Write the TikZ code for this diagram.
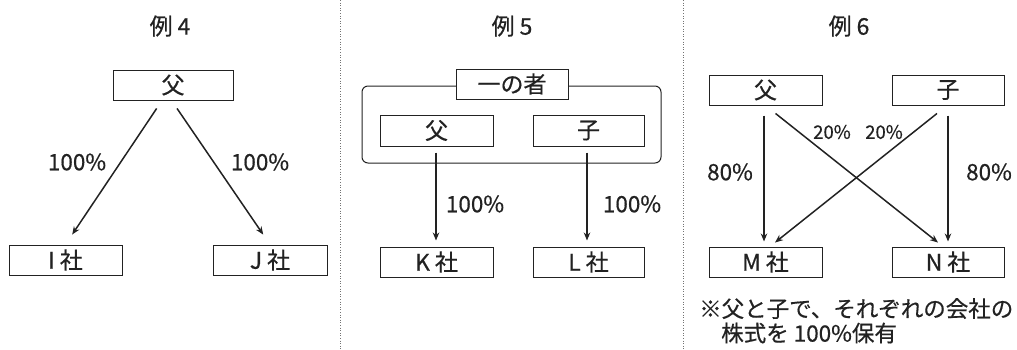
\documentclass[tikz,border=0pt]{standalone}
\usepackage{fontspec}
\setmainfont{Noto Sans CJK JP}[FakeBold=0.5]
\usetikzlibrary{arrows.meta}
\definecolor{ink}{HTML}{222222}
\newcommand{\gp}{\hspace{5pt}}
\tikzset{
  box/.style={draw=ink, line width=1pt, rectangle, inner sep=0pt, minimum height=30pt, text=ink, font=\fontsize{23}{25}\selectfont},
  arr/.style={draw=ink, line width=1.5pt, -{Stealth[length=8pt,width=6.5pt]}},
  pct/.style={text=ink, font=\fontsize{22.5}{24}\selectfont, inner sep=0pt},
  spct/.style={text=ink, font=\fontsize{18.5}{20}\selectfont, inner sep=0pt},
  ttl/.style={text=ink, font=\fontsize{23}{25}\selectfont, inner sep=0pt},
  divider/.style={draw=black!55, line width=1pt, dash pattern=on 1pt off 1.6pt},
  note/.style={text=ink, font=\fontsize{22.5}{24.5}\selectfont, inner sep=0pt, align=left, anchor=north west}
}
\begin{document}
\begin{tikzpicture}[x=1pt,y=-1pt]
\useasboundingbox (0,0) rectangle (1017,349);
% dividers
\coordinate (d1t) at (340.5,0); \coordinate (d1b) at (340.5,349);
\coordinate (d2t) at (683,0); \coordinate (d2b) at (683,349);
\draw[divider] (d1t) -- (d1b);
\draw[divider] (d2t) -- (d2b);

% ---------- Example 4 ----------
\node[ttl] (t4) at (170,26) {例\gp 4};
\node[box, minimum width=120pt] (F4) at (173,85) {父};
\node[box, minimum width=113pt] (I) at (65.5,260) {I\gp 社};
\node[box, minimum width=114pt] (J) at (270,260) {J\gp 社};
\draw[arr, shorten <=9.6pt, shorten >=12pt] ([xshift=-11pt]F4.south) -- (I.north);
\draw[arr, shorten <=9.6pt, shorten >=12pt] ([xshift=-1.4pt]F4.south) -- (J.north);
\node[pct] (p4a) at (77,162) {100\%};
\node[pct] (p4b) at (260,162) {100\%};

% ---------- Example 5 ----------
\node[ttl] (t5) at (512,26) {例\gp 5};
\draw[draw=ink, line width=1pt, rounded corners=6pt] (362,86) rectangle (661,163);
\node[box, minimum width=112pt, fill=white] (G) at (512,84) {一の者};
\node[box, minimum width=113pt, minimum height=31pt] (F5) at (436.5,130.5) {父};
\node[box, minimum width=111pt, minimum height=31pt] (C5) at (588.5,130.5) {子};
\node[box, minimum width=113pt] (K) at (436.5,262) {K\gp 社};
\node[box, minimum width=111pt] (L) at (588.5,262) {L\gp 社};
\draw[arr, shorten <=6pt, shorten >=6pt] ([xshift=-0.5pt]F5.south) -- ([xshift=-0.5pt]K.north);
\draw[arr, shorten <=6pt, shorten >=6pt] ([xshift=-1.5pt]C5.south) -- ([xshift=-1.5pt]L.north);
\node[pct] (p5a) at (475,204) {100\%};
\node[pct] (p5b) at (632,204) {100\%};

% ---------- Example 6 ----------
\node[ttl] (t6) at (849,26) {例\gp 6};
\node[box, minimum width=113pt] (F6) at (765.5,90) {父};
\node[box, minimum width=112pt] (C6) at (948,90) {子};
\node[box, minimum width=113pt] (M) at (765.5,262) {M\gp 社};
\node[box, minimum width=112pt] (N) at (948,262) {N\gp 社};
\draw[arr, shorten <=10pt, shorten >=5pt] ([xshift=-1.5pt]F6.south) -- ([xshift=-1.5pt]M.north);
\draw[arr, shorten <=10pt, shorten >=5pt] (C6.south) -- (N.north);
\draw[arr, shorten <=12.8pt, shorten >=6.4pt] (F6.south) -- ([xshift=-5pt]N.north);
\draw[arr, shorten <=12.8pt, shorten >=6.4pt] ([xshift=-1pt]C6.south) -- ([xshift=4.5pt]M.north);
\node[pct] (p6a) at (730,172) {80\%};
\node[pct] (p6b) at (989,172) {80\%};
\node[spct] (p6c) at (832,132) {20\%};
\node[spct] (p6d) at (884,132) {20\%};
\node[note] (nt) at (699,298) {※父と子で、それぞれの会社の\\\hspace*{22pt}株式を 100\%保有};
\end{tikzpicture}
\end{document}
